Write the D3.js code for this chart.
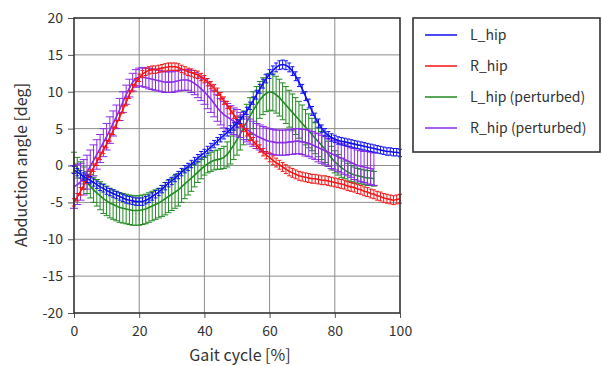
<!DOCTYPE html>
<html><head><meta charset="utf-8">
<script src="https://cdn.jsdelivr.net/npm/d3@7"></script>
<style>
html,body{margin:0;padding:0;background:#fff;}
svg text{font-family:"Noto Sans CJK JP","Noto Sans",sans-serif;fill:#333;}
</style></head>
<body><svg id="c" width="602" height="366"></svg>
<script>
// ---- data (gait cycle %, mean & SD in deg) ----
const seriesNames = ["L_hip", "R_hip", "L_hip (perturbed)", "R_hip (perturbed)"];
const xTicks = [0, 20, 40, 60, 80, 100];
const yTicks = [-20, -15, -10, -5, 0, 5, 10, 15, 20];

const lHipMean = [-0.6,-0.9,-1.2,-1.5,-1.8,-2.0,-2.3,-2.6,-2.9,-3.1,-3.4,-3.6,-3.8,-4.0,-4.2,-4.4,-4.6,-4.7,-4.8,-4.9,-4.9,-4.9,-4.7,-4.5,-4.2,-3.9,-3.6,-3.2,-2.8,-2.4,-2.1,-1.7,-1.3,-0.9,-0.5,-0.2,0.2,0.6,1.0,1.4,1.7,2.1,2.5,2.9,3.3,3.7,4.1,4.5,4.9,5.3,5.7,6.2,6.8,7.4,8.1,8.8,9.6,10.4,11.1,11.8,12.4,12.9,13.3,13.6,13.7,13.6,13.3,12.8,12.1,11.3,10.4,9.4,8.4,7.4,6.5,5.7,5.0,4.5,4.1,3.8,3.6,3.4,3.3,3.2,3.1,3.0,2.9,2.8,2.7,2.6,2.5,2.4,2.3,2.2,2.1,2.0,1.9,1.9,1.8,1.8,1.7];
const lHipSd = [0.5,0.5,0.5,0.5,0.5,0.5,0.5,0.5,0.5,0.5,0.5,0.5,0.5,0.5,0.5,0.5,0.5,0.5,0.5,0.5,0.5,0.5,0.5,0.5,0.5,0.5,0.5,0.5,0.5,0.5,0.5,0.5,0.5,0.5,0.5,0.5,0.5,0.5,0.5,0.5,0.5,0.5,0.5,0.5,0.5,0.5,0.5,0.5,0.5,0.5,0.5,0.5,0.5,0.5,0.5,0.5,0.6,0.6,0.6,0.6,0.6,0.6,0.6,0.6,0.6,0.6,0.6,0.6,0.6,0.6,0.6,0.6,0.6,0.6,0.6,0.6,0.5,0.5,0.5,0.5,0.5,0.5,0.5,0.5,0.5,0.5,0.5,0.5,0.5,0.5,0.5,0.5,0.5,0.5,0.5,0.5,0.5,0.5,0.5,0.5,0.5];
const rHipMean = [-5.0,-4.3,-3.5,-2.7,-1.9,-1.1,-0.3,0.5,1.3,2.1,2.9,3.8,4.7,5.6,6.6,7.6,8.6,9.6,10.5,11.3,11.9,12.4,12.7,12.9,13.0,13.0,13.1,13.2,13.3,13.4,13.4,13.4,13.3,13.1,12.9,12.7,12.6,12.4,12.3,12.0,11.7,11.3,10.9,10.5,10.0,9.4,8.8,8.2,7.5,6.9,6.2,5.7,5.1,4.5,3.9,3.3,2.8,2.3,1.8,1.4,1.1,0.7,0.4,0.1,-0.2,-0.5,-0.8,-1.0,-1.2,-1.4,-1.5,-1.6,-1.7,-1.8,-1.8,-1.9,-2.0,-2.0,-2.1,-2.2,-2.3,-2.4,-2.5,-2.6,-2.8,-2.9,-3.0,-3.2,-3.3,-3.5,-3.6,-3.8,-3.9,-4.1,-4.2,-4.4,-4.5,-4.6,-4.7,-4.6,-4.5];
const rHipSd = [0.5,0.5,0.5,0.5,0.5,0.5,0.5,0.5,0.5,0.5,0.5,0.5,0.5,0.5,0.5,0.5,0.5,0.5,0.5,0.5,0.5,0.5,0.5,0.5,0.5,0.5,0.5,0.5,0.5,0.5,0.5,0.5,0.5,0.5,0.5,0.5,0.5,0.5,0.5,0.5,0.5,0.5,0.5,0.5,0.5,0.5,0.5,0.5,0.5,0.5,0.5,0.5,0.5,0.5,0.5,0.5,0.5,0.5,0.5,0.5,0.6,0.6,0.6,0.6,0.6,0.6,0.6,0.6,0.6,0.6,0.6,0.6,0.6,0.6,0.6,0.6,0.6,0.6,0.6,0.6,0.6,0.6,0.6,0.6,0.6,0.6,0.6,0.6,0.6,0.6,0.6,0.6,0.6,0.6,0.6,0.6,0.6,0.6,0.6,0.6,0.6];
const lHipPMean = [0.4,-0.3,-1.0,-1.7,-2.3,-2.8,-3.3,-3.7,-4.1,-4.5,-4.8,-5.1,-5.3,-5.5,-5.7,-5.8,-5.9,-6.0,-6.1,-6.1,-6.1,-6.0,-5.9,-5.7,-5.5,-5.3,-5.1,-4.8,-4.5,-4.2,-3.9,-3.6,-3.3,-2.9,-2.5,-2.1,-1.7,-1.3,-0.9,-0.5,-0.1,0.2,0.5,0.7,0.8,0.9,1.1,1.5,2.1,2.8,3.5,4.3,5.1,5.9,6.7,7.5,8.2,8.9,9.4,9.8,10.0,9.9,9.6,9.2,8.7,8.2,7.7,7.2,6.7,6.2,5.7,5.2,4.7,4.2,3.7,3.2,2.7,2.2,1.6,1.0,0.5,0.1,-0.3,-0.6,-0.9,-1.1,-1.3,-1.4,-1.5,-1.6,-1.7,-1.7,-1.8];
const lHipPSd = [1.4,1.4,1.5,1.5,1.5,1.6,1.7,1.8,1.9,2.0,2.0,2.0,2.0,2.0,2.0,2.0,2.0,2.0,2.0,2.0,2.0,2.0,2.0,2.0,2.0,2.0,2.0,2.1,2.2,2.2,2.2,2.2,2.2,2.1,2.0,1.9,1.8,1.6,1.4,1.3,1.2,1.2,1.3,1.3,1.3,1.4,1.5,1.7,1.9,2.0,2.1,2.2,2.3,2.4,2.5,2.5,2.5,2.5,2.5,2.5,2.5,2.5,2.5,2.5,2.5,2.5,2.5,2.5,2.5,2.5,2.5,2.4,2.3,2.2,2.1,2.0,1.9,1.8,1.7,1.6,1.5,1.4,1.3,1.2,1.2,1.1,1.1,1.0,1.0,1.0,1.0,1.0,1.0];
const rHipPMean = [-2.9,-2.6,-2.2,-1.6,-0.9,-0.1,0.7,1.5,2.3,3.1,3.9,4.8,5.7,6.6,7.6,8.6,9.6,10.5,11.3,11.8,12.0,12.0,11.9,11.8,11.7,11.6,11.5,11.4,11.3,11.3,11.3,11.4,11.5,11.6,11.6,11.6,11.4,11.1,10.8,10.4,10.0,9.5,9.0,8.4,7.8,7.3,6.9,6.6,6.3,6.0,5.8,5.5,5.2,4.9,4.6,4.3,4.0,3.8,3.6,3.4,3.3,3.2,3.1,3.1,3.1,3.1,3.2,3.2,3.3,3.3,3.2,3.1,3.0,2.8,2.6,2.4,2.2,2.0,1.8,1.6,1.4,1.2,1.0,0.8,0.6,0.4,0.2,0.0,-0.1,-0.2,-0.3,-0.4,-0.5];
const rHipPSd = [2.9,2.7,2.5,2.4,2.3,2.2,2.1,2.0,1.9,1.9,1.8,1.8,1.7,1.6,1.5,1.4,1.3,1.2,1.2,1.2,1.2,1.3,1.3,1.4,1.4,1.4,1.4,1.4,1.4,1.4,1.4,1.4,1.4,1.4,1.4,1.4,1.5,1.5,1.6,1.6,1.7,1.8,1.8,1.8,1.8,1.8,1.8,1.8,1.8,1.8,1.8,1.7,1.7,1.7,1.7,1.7,1.7,1.7,1.7,1.7,1.7,1.7,1.7,1.7,1.7,1.7,1.7,1.7,1.7,1.7,1.7,1.8,1.8,1.8,1.8,1.9,1.9,1.9,1.9,2.0,2.0,2.0,2.0,2.0,2.0,2.0,2.1,2.1,2.1,2.1,2.2,2.2,2.2];

// ---- layout ----
const svg = d3.select("#c");
const L = 74, R = 400, T = 18, B = 313;
const x = d3.scaleLinear().domain([0, 100]).range([L, R]);
const y = d3.scaleLinear().domain([-20, 20]).range([B, T]);

const colors = ["#1010f5", "#f51515", "#218a21", "#8b2be8"];
const capW = [4, 4, 6, 8];

// grid
svg.append("g").selectAll("line").data(xTicks.slice(1, -1)).join("line")
  .attr("x1", d => x(d)).attr("x2", d => x(d)).attr("y1", T).attr("y2", B)
  .attr("stroke", "#8c8c8c").attr("stroke-width", 1);
svg.append("g").selectAll("line").data(yTicks.slice(1, -1)).join("line")
  .attr("x1", L).attr("x2", R).attr("y1", d => y(d)).attr("y2", d => y(d))
  .attr("stroke", "#8c8c8c").attr("stroke-width", 1);

// axes
const fmt = d => (d < 0 ? "-" : "") + Math.abs(d);
const xAxis = svg.append("g").attr("transform", `translate(0,${B})`)
  .call(d3.axisBottom(x).tickValues(xTicks).tickSize(5).tickPadding(8).tickFormat(fmt));
const yAxis = svg.append("g").attr("transform", `translate(${L},0)`)
  .call(d3.axisLeft(y).tickValues(yTicks).tickSize(6).tickPadding(5).tickFormat(fmt));
[xAxis, yAxis].forEach(g => {
  g.select(".domain").remove();
  g.selectAll("line").attr("stroke", "#555");
  g.selectAll("text").attr("font-size", 14).style("fill", "#333")
    .style("font-family", '"Noto Sans CJK JP","Noto Sans",sans-serif');
});

// series
const means = [lHipMean, rHipMean, lHipPMean, rHipPMean];
const sds = [lHipSd, rHipSd, lHipPSd, rHipPSd];
const order = [2, 3, 1, 0];
order.forEach(si => {
  const data = means[si].map((m, i) => ({ p: i, m: m, s: sds[si][i] }));
  const g = svg.append("g");
  const col = colors[si];
  g.selectAll("line.v").data(data).join("line").attr("class", "v")
    .attr("x1", d => x(d.p)).attr("x2", d => x(d.p))
    .attr("y1", d => y(d.m - d.s)).attr("y2", d => y(d.m + d.s))
    .attr("stroke", col).attr("stroke-width", 1);
  ["lo", "hi"].forEach(k => {
    g.selectAll("line." + k).data(data).join("line").attr("class", k)
      .attr("x1", d => x(d.p) - capW[si] / 2).attr("x2", d => x(d.p) + capW[si] / 2)
      .attr("y1", d => y(k === "lo" ? d.m - d.s : d.m + d.s))
      .attr("y2", d => y(k === "lo" ? d.m - d.s : d.m + d.s))
      .attr("stroke", col).attr("stroke-width", 1);
  });
  g.append("path").datum(data)
    .attr("d", d3.line().x(d => x(d.p)).y(d => y(d.m)))
    .attr("fill", "none").attr("stroke", col).attr("stroke-width", 1.6);
});

// frame
svg.append("rect").attr("x", L).attr("y", T).attr("width", R - L).attr("height", B - T)
  .attr("fill", "none").attr("stroke", "#333").attr("stroke-width", 1.6);

// axis titles
svg.append("text").attr("x", 240).attr("y", 361).attr("text-anchor", "middle")
  .attr("font-size", 16).text("Gait cycle [%]");
svg.append("text").attr("transform", "translate(27,165) rotate(-90)")
  .attr("text-anchor", "middle").attr("font-size", 16).text("Abduction angle [deg]");

// legend
const lg = svg.append("g");
lg.append("rect").attr("x", 413).attr("y", 18).attr("width", 187).attr("height", 134)
  .attr("fill", "#fff").attr("stroke", "#333").attr("stroke-width", 1.6);
seriesNames.forEach((n, i) => {
  const yy = 35 + i * 31;
  lg.append("line").attr("x1", 425).attr("x2", 457).attr("y1", yy).attr("y2", yy)
    .attr("stroke", colors[i]).attr("stroke-width", 1.5);
  lg.append("text").attr("x", 470).attr("y", yy).attr("dy", "0.35em")
    .attr("font-size", 14).text(n);
});
</script></body></html>
